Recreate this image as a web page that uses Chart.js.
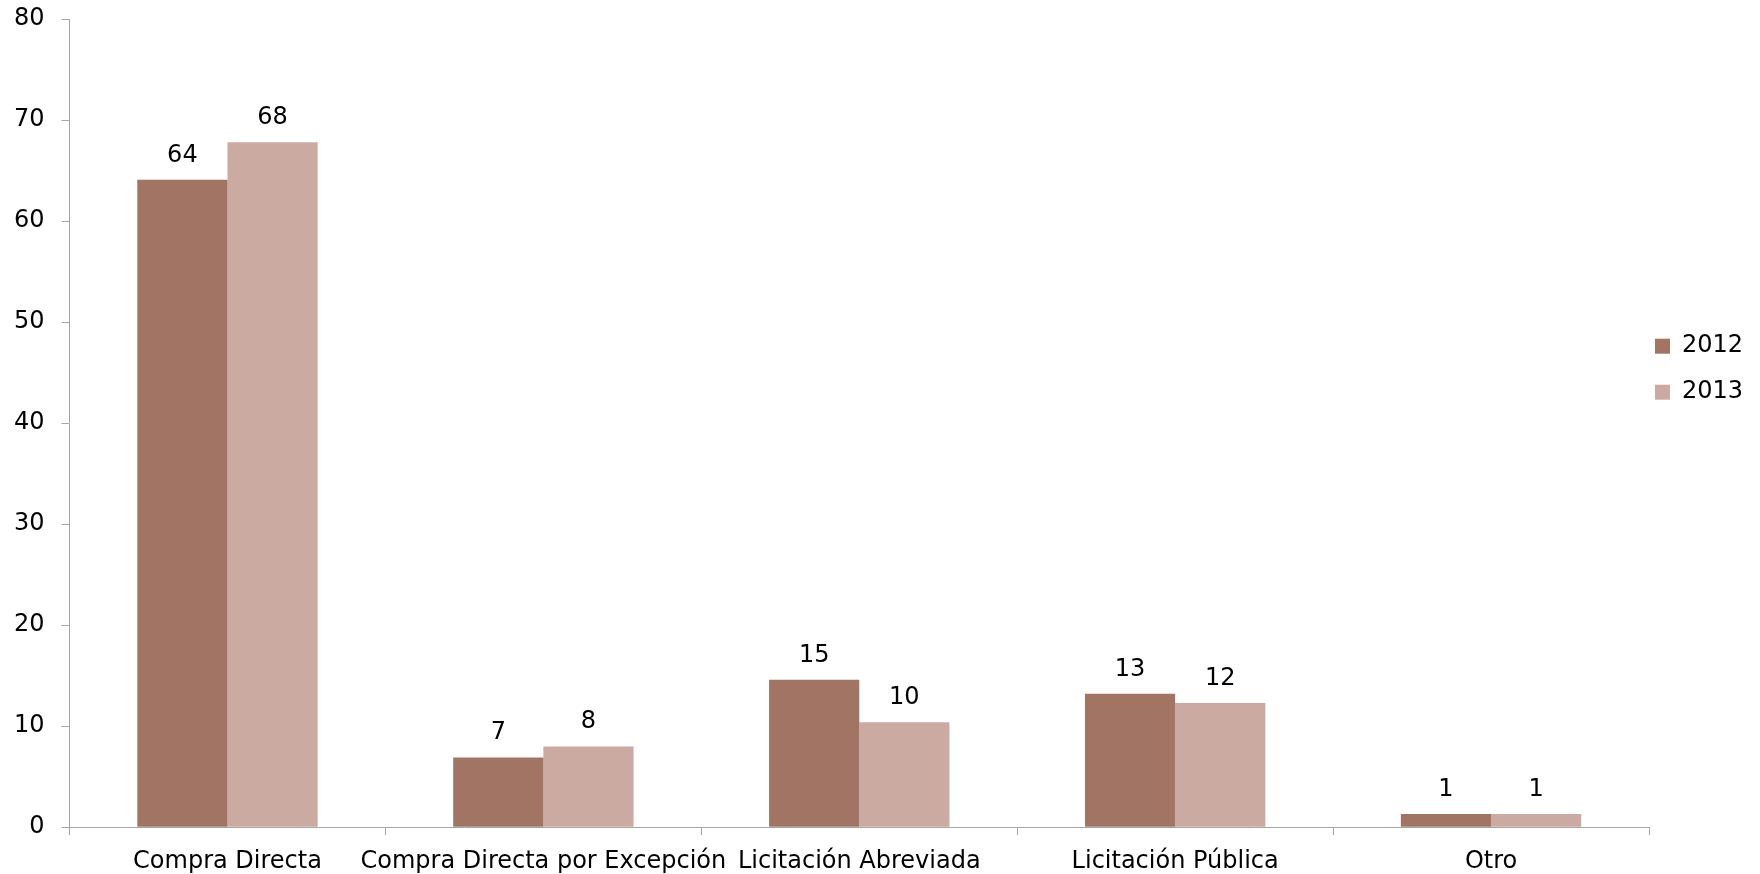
<!DOCTYPE html>
<html><head><meta charset="utf-8">
<script src="https://cdn.jsdelivr.net/npm/chart.js@4.4.0/dist/chart.umd.min.js"></script>
<style>html,body{margin:0;padding:0;background:#fff;} #wrap{width:1760px;height:874px;position:relative;}</style>
</head><body><div id="wrap"><canvas id="c"></canvas></div>
<script>
const categories = ['Compra Directa', 'Compra Directa por Excepción', 'Licitación Abreviada', 'Licitación Pública', 'Otro'];
const seriesNames = ['2012', '2013'];
const values2012 = [64.1, 6.9, 14.6, 13.2, 1.3];
const values2013 = [67.8, 8.0, 10.4, 12.3, 1.3];
const yMin = 0, yMax = 80, yStep = 10;

const FONT = '"DejaVu Sans", sans-serif';
const FS = 24;
const AXIS = '#a6a6a6';

const valueLabels = {
  id: 'valueLabels',
  afterDatasetsDraw(chart) {
    const ctx = chart.ctx;
    ctx.save();
    ctx.font = FS + 'px ' + FONT;
    ctx.fillStyle = '#000';
    ctx.textAlign = 'center';
    ctx.textBaseline = 'alphabetic';
    chart.data.datasets.forEach((ds, i) => {
      chart.getDatasetMeta(i).data.forEach((bar, j) => {
        ctx.fillText(String(Math.round(ds.data[j])), bar.x, bar.y - 18);
      });
    });
    ctx.restore();
  }
};

const legendShift = {
  id: 'legendShift',
  afterLayout(chart) {
    const lg = chart.legend;
    const dx = lg.options.labels.padding - 6;
    lg.left -= dx; lg.right -= dx;
  }
};

new Chart(document.getElementById('c'), {
  type: 'bar',
  data: {
    labels: categories,
    datasets: [
      { label: seriesNames[0], data: values2012, backgroundColor: '#a17463', borderWidth: 0 },
      { label: seriesNames[1], data: values2013, backgroundColor: '#cbaaa1', borderWidth: 0 }
    ]
  },
  options: {
    responsive: true,
    maintainAspectRatio: false,
    animation: false,
    devicePixelRatio: 1,
    datasets: { bar: { categoryPercentage: 0.571, barPercentage: 1 } },
    layout: { padding: { top: 0, left: -3, right: 0, bottom: -14 } },
    scales: {
      x: {
        ticks: { color: '#000', font: { size: FS, family: FONT }, padding: 12, maxRotation: 0, autoSkip: false },
        grid: { drawOnChartArea: false, tickLength: 8, color: AXIS, offset: true },
        border: { color: AXIS }
      },
      y: {
        min: yMin, max: yMax,
        ticks: { stepSize: yStep, color: '#000', font: { size: FS, family: FONT }, padding: 17 },
        grid: { drawOnChartArea: false, tickLength: 8, color: AXIS },
        border: { color: AXIS },
        afterFit(scale) { scale.paddingTop = 19; }
      }
    },
    plugins: {
      tooltip: { enabled: false },
      legend: {
        position: 'right',
        align: 'start',
        maxWidth: 111,
        title: { display: true, text: '', padding: { top: 311, bottom: 0 }, font: { size: 1 } },
        labels: { boxWidth: 15, boxHeight: 15, padding: 22, color: '#000', font: { size: FS, family: FONT } }
      }
    }
  },
  plugins: [valueLabels, legendShift]
});
</script></body></html>
